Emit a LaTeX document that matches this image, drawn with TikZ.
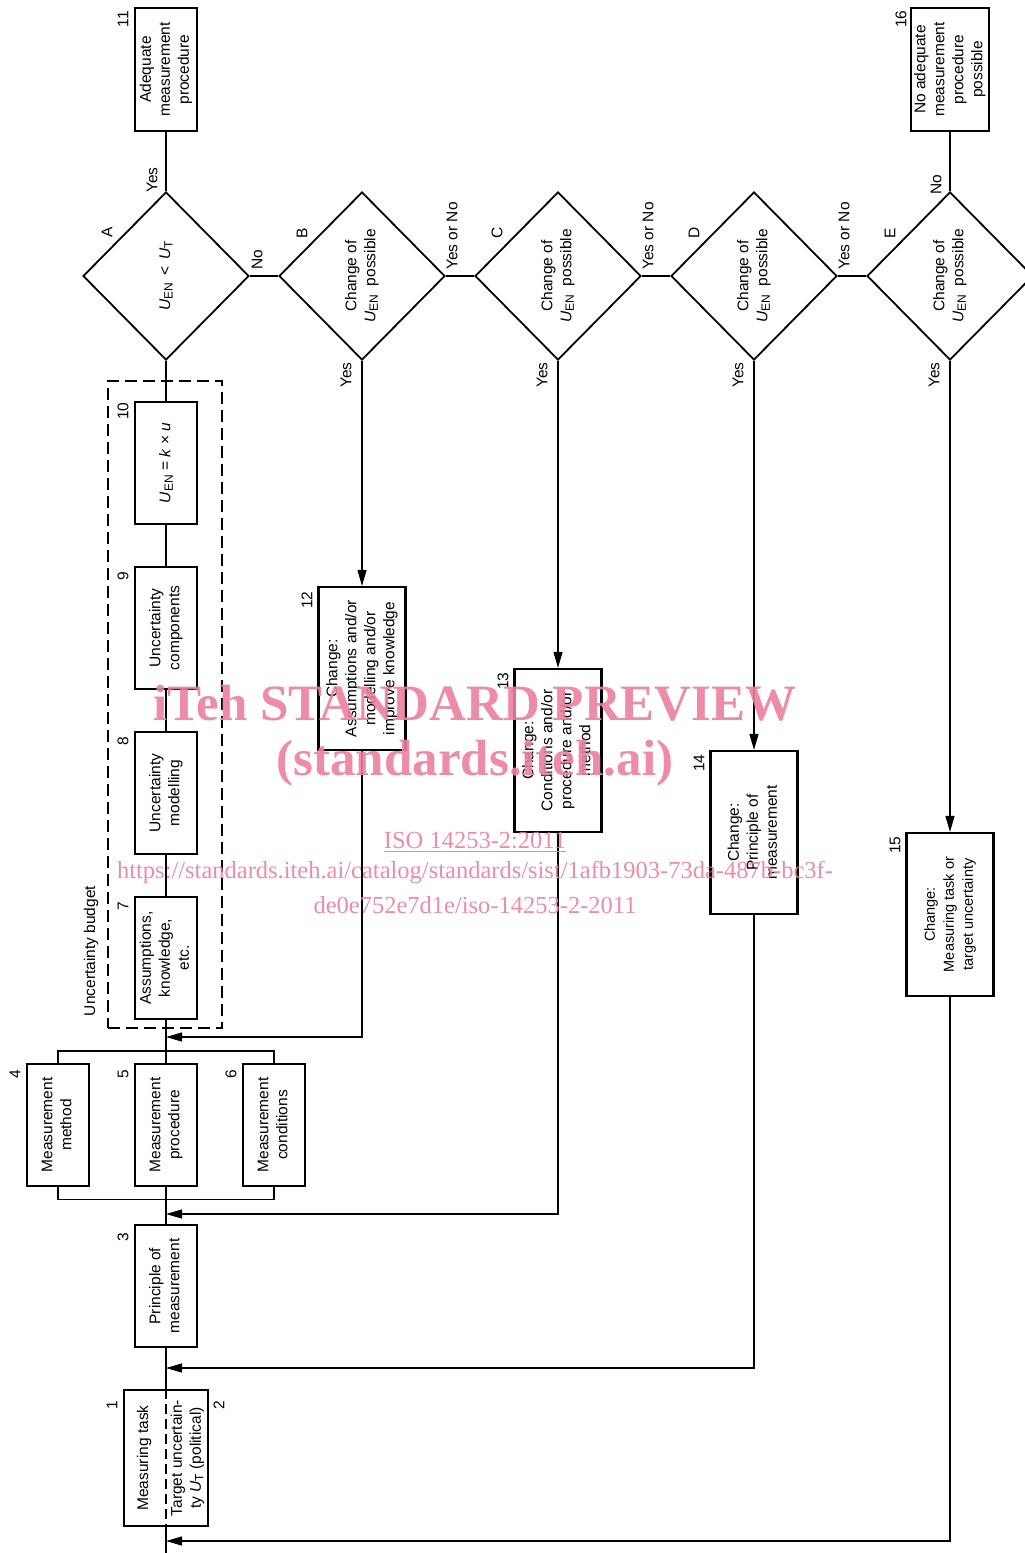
\documentclass[tikz,border=0pt]{standalone}
\usepackage{fontspec}
\setmainfont{Liberation Sans}
\newfontfamily\wmfont{Liberation Serif}
\usepackage{graphicx}
\usetikzlibrary{shapes.geometric,arrows.meta,calc}
\newcommand\rt[1]{\rotatebox{90}{\begin{tabular}{@{}c@{}}#1\end{tabular}}}
\newcommand\ro[1]{\rotatebox{90}{#1}}
\newcommand\mysub[1]{\raisebox{-0.3ex}{\fontsize{12}{12}\selectfont #1}}
\newcommand\UEN{\textit{U}\mysub{EN}}
\newcommand\UT{\textit{U}\mysub{T}}
\definecolor{wmpink}{RGB}{234,128,160}
\tikzset{
  every node/.style={font=\fontsize{15.5}{19}\selectfont},
  box/.style={draw, line width=2.2pt, minimum width=62pt, minimum height=122pt, inner sep=0pt},
  chbox/.style={box, minimum width=87pt, minimum height=163pt},
  dia/.style={draw, diamond, line width=1.8pt, minimum width=166pt, minimum height=168pt, inner sep=0pt},
  con/.style={line width=1.2pt},
  arr/.style={con, -{Triangle[length=16pt,width=9pt]}},
  lbl/.style={inner sep=0pt},
  wm/.style={text=wmpink, text opacity=0.9, inner sep=0pt},
}
\begin{document}
\begin{tikzpicture}[x=1pt,y=-1pt]
\path[use as bounding box] (0,0) rectangle (1025,1553);
\clip (0,0) rectangle (1025,1553);

% top boxes
\node[box, minimum height=123pt] (b11) at (166,69.5) {\rt{Adequate\\measurement\\procedure}};
\node[box, minimum width=78pt, minimum height=123pt] (b16) at (950,69.5) {\rt{No adequate\\measurement\\procedure\\possible}};

% diamonds
\node[dia] (A) at (166,276) {};
\node[dia] (B) at (362,276) {};
\node[dia] (C) at (558,276) {};
\node[dia] (D) at (754,276) {};
\node[dia] (E) at (950,276) {};
\node (tA) at (A) {\ro{\UEN\ \,<\ \,\UT}};
\node (tB) at (B) {\rt{Change of\\\UEN\ \ possible}};
\node (tC) at (C) {\rt{Change of\\\UEN\ \ possible}};
\node (tD) at (D) {\rt{Change of\\\UEN\ \ possible}};
\node (tE) at (E) {\rt{Change of\\\UEN\ \ possible}};

% uncertainty budget
\node[draw, line width=1.2pt, dash pattern=on 12pt off 6pt, minimum width=114pt, minimum height=647pt, inner sep=0pt] (ub) at (165,704.5) {};
\node[lbl] (ubl) at (91,951) {\ro{Uncertainty budget}};
\node[box] (b10) at (166,463) {\ro{\UEN\ = \textit{k} × \textit{u}}};
\node[box] (b9) at (166,628) {\rt{Uncertainty\\components}};
\node[box] (b8) at (166,793) {\rt{Uncertainty\\modelling}};
\node[box] (b7) at (166,958) {\rt{Assumptions,\\knowledge,\\etc.}};

% measurement boxes
\node[box] (b4) at (58,1125) {\rt{Measurement\\method}};
\node[box] (b5) at (166,1125) {\rt{Measurement\\procedure}};
\node[box] (b6) at (274,1125) {\rt{Measurement\\conditions}};
\node[box] (b3) at (166,1286) {\rt{Principle of\\measurement}};
\node[box, minimum width=84pt, minimum height=136pt] (b1) at (166,1458) {};
\node (t1) at (144,1458) {\ro{Measuring task}};
\node (t2) at (187.5,1458) {\rt{Target uncertain-\\ty \UT\ (political)}};

% change boxes
\node[chbox] (b12) at (362,668.5) {\rt{Change:\\Assumptions and/or\\modelling and/or\\improve knowledge}};
\node[chbox] (b13) at (558,750.5) {\rt{Change:\\Conditions and/or\\procedure and/or\\method}};
\node[chbox] (b14) at (754,832.5) {\rt{Change:\\Principle of\\measurement}};
\node[chbox, font=\fontsize{14.5}{19}\selectfont] (b15) at (950,914.5) {\rt{Change:\\Measuring task or\\target uncertainty}};

% number labels
\node[lbl] (n11) at (123,19) {\ro{11}};
\node[lbl] (n16) at (901,19) {\ro{16}};
\node[lbl] (n10) at (123,411) {\ro{10}};
\node[lbl] (n9) at (123,576) {\ro{9}};
\node[lbl] (n8) at (123,741) {\ro{8}};
\node[lbl] (n7) at (123,906) {\ro{7}};
\node[lbl] (n4) at (15,1074) {\ro{4}};
\node[lbl] (n5) at (123,1074) {\ro{5}};
\node[lbl] (n6) at (231,1074) {\ro{6}};
\node[lbl] (n3) at (123,1237) {\ro{3}};
\node[lbl] (n1) at (112,1405) {\ro{1}};
\node[lbl] (n2) at (219,1405) {\ro{2}};
\node[lbl] (n12) at (307,600) {\ro{12}};
\node[lbl] (n13) at (503,681) {\ro{13}};
\node[lbl] (n14) at (699,763) {\ro{14}};
\node[lbl] (n15) at (895,845) {\ro{15}};

% diamond letters
\node[lbl] (lA) at (107,232) {\ro{A}};
\node[lbl] (lB) at (302,233) {\ro{B}};
\node[lbl] (lC) at (497,233) {\ro{C}};
\node[lbl] (lD) at (694,233) {\ro{D}};
\node[lbl] (lE) at (890,233) {\ro{E}};

% yes/no labels
\node[lbl] (yA) at (152,180) {\ro{Yes}};
\node[lbl] (nA) at (257,260) {\ro{No}};
\node[lbl] (ynB) at (452,236) {\ro{Yes or No}};
\node[lbl] (ynC) at (648,236) {\ro{Yes or No}};
\node[lbl] (ynD) at (844,236) {\ro{Yes or No}};
\node[lbl] (nE) at (936,185) {\ro{No}};
\node[lbl] (yB) at (346,375) {\ro{Yes}};
\node[lbl] (yC) at (542,375) {\ro{Yes}};
\node[lbl] (yD) at (738,375) {\ro{Yes}};
\node[lbl] (yE) at (934,375) {\ro{Yes}};

% junction coordinates on the spine
\coordinate (j12) at (166,1037);
\coordinate (j13) at (166,1214);
\coordinate (j14) at (166,1368);
\coordinate (j15) at (166,1541);
\coordinate (bot) at (166,1553);

% spine
\draw[con] (b11.south) -- (A.north);
\draw[con] (A.south) -- (b10.north);
\draw[con] (b10.south) -- (b9.north);
\draw[con] (b9.south) -- (b8.north);
\draw[con] (b8.south) -- (b7.north);
\draw[con] (b7.south) -- (b5.north);
\draw[con] (b5.south) -- (b3.north);
\draw[con] (b3.south) -- (b1.north);
\draw[con, dash pattern=on 10pt off 5pt] (b1.north) -- (b1.south);
\draw[con] (b1.south) -- (bot);

% brackets around 4,5,6
\draw[con] (b4.north) -- ++(0,-12) -| (b6.north);
\draw[con] (b4.south) -- ++(0,12) -| (b6.south);

% diamond chain
\draw[con] (A.east) -- (B.west);
\draw[con] (B.east) -- (C.west);
\draw[con] (C.east) -- (D.west);
\draw[con] (D.east) -- (E.west);
\draw[con] (E.north) -- (b16.south);

% change loops
\draw[arr] (B.south) -- (b12.north);
\draw[arr] (C.south) -- (b13.north);
\draw[arr] (D.south) -- (b14.north);
\draw[arr] (E.south) -- (b15.north);
\draw[arr] (b12.south) |- (j12);
\draw[arr] (b13.south) |- (j13);
\draw[arr] (b14.south) |- (j14);
\draw[arr] (b15.south) |- (j15);

% watermark
\node[wm, font=\wmfont\bfseries\fontsize{51}{51}\selectfont] (wm1) at (475,703) {iTeh STANDARD PREVIEW};
\node[wm, font=\wmfont\bfseries\fontsize{51}{51}\selectfont] (wm2) at (475,763) {(standards.iteh.ai)};
\node[wm, font=\wmfont\fontsize{24.5}{24.5}\selectfont] (wm3) at (475,842) {\underline{ISO 14253-2:2011}};
\node[wm, font=\wmfont\fontsize{24.5}{24.5}\selectfont] (wm4) at (475,873) {https://standards.iteh.ai/catalog/standards/sist/1afb1903-73da-487b-bc3f-};
\node[wm, font=\wmfont\fontsize{24.5}{24.5}\selectfont] (wm5) at (475,905) {de0e752e7d1e/iso-14253-2-2011};
\end{tikzpicture}
\end{document}
